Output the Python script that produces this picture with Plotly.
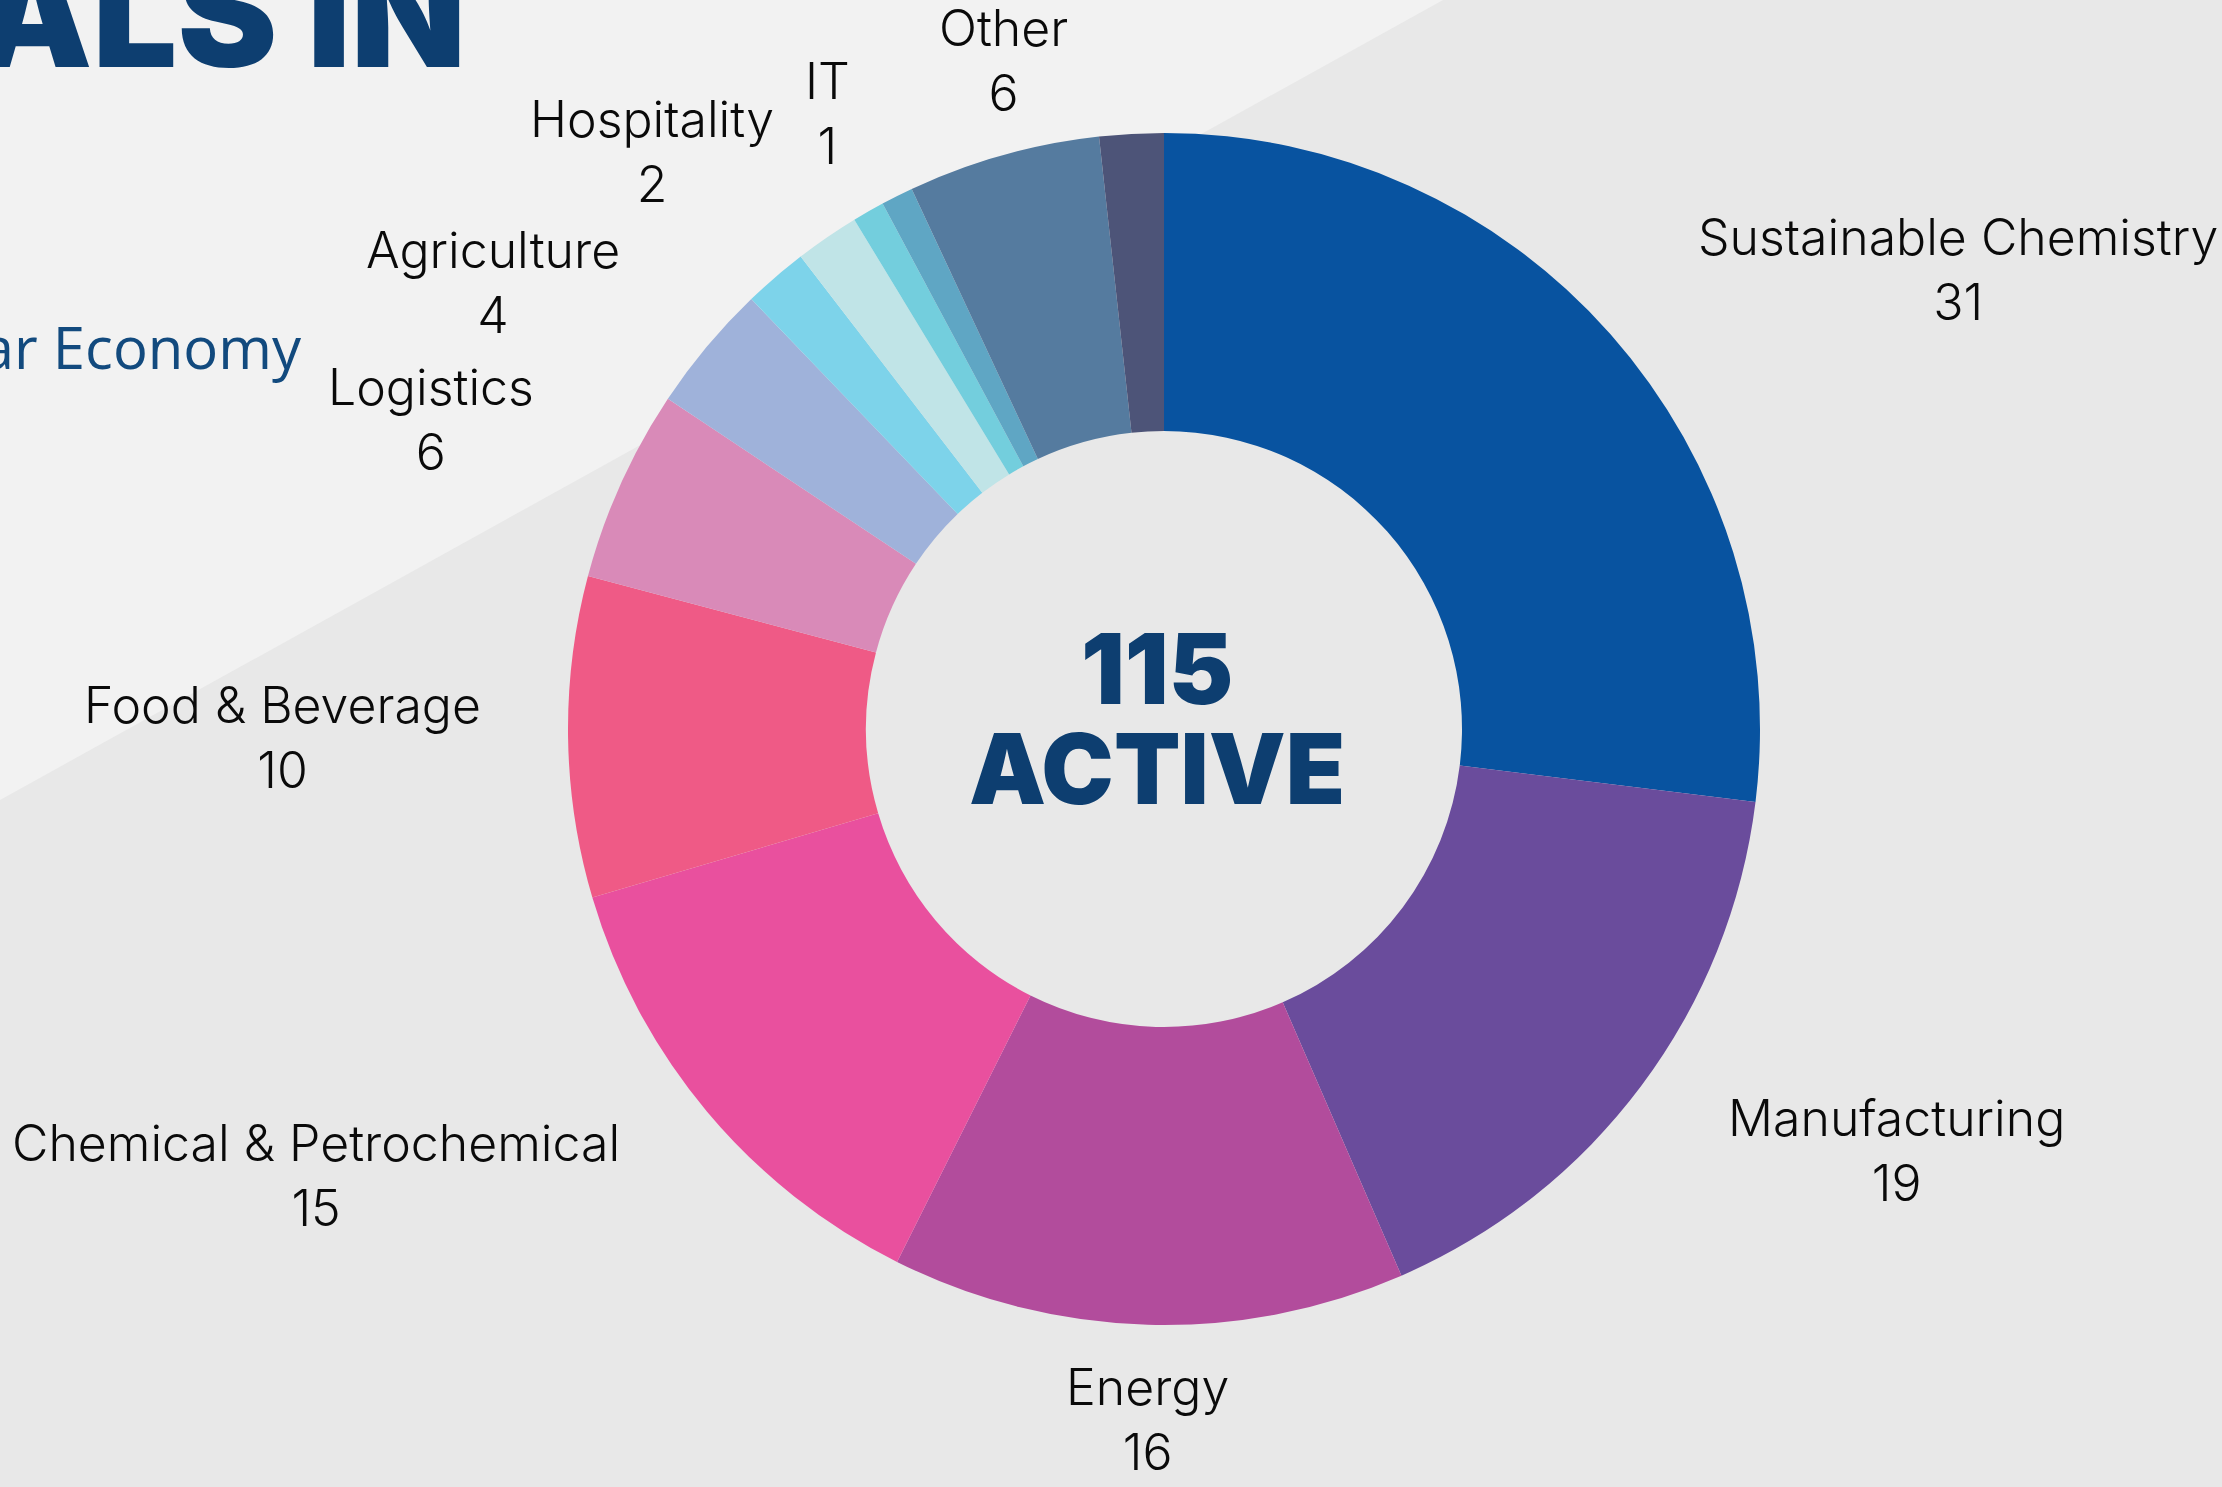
import math
import plotly.graph_objects as go

# ---------------- data ----------------
sectors = ["Sustainable Chemistry", "Manufacturing", "Energy", "Chemical & Petrochemical",
           "Food & Beverage", "Logistics", "Agriculture", "Hospitality",
           "Unlabelled A", "IT", "Unlabelled B", "Other", "Unlabelled C"]
counts = [31, 19, 16, 15, 10, 6, 4, 2, 2, 1, 1, 6, 2]
show_label = [True, True, True, True, True, True, True, True,
              False, True, False, True, False]
slice_colors = ["#0853A0", "#6A4C9C", "#B24C9C", "#E9509E", "#EF5A86", "#D98AB8",
                "#9FB2DA", "#7DD3EA", "#C0E4E7", "#73CEDD", "#5FA6C4", "#557B9F", "#4D5478"]
center_number = "115"
center_word = "ACTIVE"
heading_text = "PROPOSALS IN"
subheading_text = "Circular Economy"

# ---------------- layout constants (pixels) ----------------
W, H = 2222, 1487
CX, CY, R = 1164, 729, 596
FS = 50
LINE_H = 1.3 * FS
GAP_X, GAP_Y = 85, 30
PAD_X, PAD_Y = 30, 0
CHAR_W = 0.46 * FS
LABEL_FONT = "Inter"
NAVY = "#0D3E70"


def px_x(x):
    return x / W


def px_y(y):
    return 1 - y / H


fig = go.Figure(go.Pie(
    labels=sectors,
    values=counts,
    hole=0.5,
    sort=False,
    direction="clockwise",
    rotation=0,
    marker=dict(colors=slice_colors, line=dict(width=0)),
    textinfo="none",
    hovertemplate="%{label}: %{value}<extra></extra>",
    domain=dict(x=[px_x(CX - R), px_x(CX + R)], y=[px_y(CY + R), px_y(CY - R)]),
    showlegend=False,
))

# ---------- outside labels positioned from slice mid-angles ----------
total = sum(counts)
mids = []
acc = 0
for v in counts:
    mids.append((acc + v / 2) / total * 2 * math.pi)
    acc += v


def place(theta, w, h):
    s, c = math.sin(theta), math.cos(theta)
    px, py = CX + R * s, CY - R * c
    if abs(s) < 0.3:
        xa, x = "center", px
        if c > 0:
            ya, y = "bottom", py - GAP_Y
        else:
            ya, y = "top", py + GAP_Y
    else:
        xa, x = ("left", px + GAP_X) if s > 0 else ("right", px - GAP_X)
        if abs(c) < 0.2:
            ya, y = "middle", py
        elif c > 0:
            ya, y = "bottom", py
        else:
            ya, y = "top", py
    x0 = {"left": x, "right": x - w, "center": x - w / 2}[xa]
    y0 = {"top": y, "bottom": y - h, "middle": y - h / 2}[ya]
    return dict(x=x, y=y, xa=xa, ya=ya, box=(x0, y0, x0 + w, y0 + h))


def overlaps(b, others):
    for o in others:
        if (b[0] < o[2] + PAD_X and b[2] + PAD_X > o[0]
                and b[1] < o[3] + PAD_Y and b[3] + PAD_Y > o[1]):
            return True
    return False


idx = [i for i in range(len(counts)) if show_label[i]]
left = sorted([i for i in idx if mids[i] > math.pi], key=lambda i: mids[i])
right = sorted([i for i in idx if mids[i] <= math.pi], key=lambda i: -mids[i])
placed_boxes = []
positions = {}
for group, step in ((left, 0.004), (right, -0.004)):
    for i in group:
        w = max(len(sectors[i]), len(str(counts[i]))) * CHAR_W
        h = 2 * LINE_H
        theta = mids[i]
        p = place(theta, w, h)
        n = 0
        while overlaps(p["box"], placed_boxes) and n < 200:
            theta += step
            p = place(theta, w, h)
            n += 1
        placed_boxes.append(p["box"])
        positions[i] = p

annotations = []
for i, p in positions.items():
    annotations.append(dict(
        x=px_x(p["x"]), y=px_y(p["y"]), xref="paper", yref="paper",
        xanchor=p["xa"], yanchor=p["ya"], showarrow=False, align="center",
        text=f"{sectors[i]}<br>{counts[i]}",
        font=dict(family=LABEL_FONT, size=FS, color="#0A0A0A", weight=300),
    ))

# center text
annotations.append(dict(x=px_x(1157), y=px_y(668), xref="paper", yref="paper",
                        xanchor="center", yanchor="middle", showarrow=False,
                        text=center_number,
                        font=dict(family="Inter", size=97, color=NAVY, weight=900)))
annotations.append(dict(x=px_x(1157), y=px_y(768), xref="paper", yref="paper",
                        xanchor="center", yanchor="middle", showarrow=False,
                        text=center_word,
                        font=dict(family="Inter", size=97, color=NAVY, weight=900)))

# cropped page heading and subheading
annotations.append(dict(x=px_x(468), y=px_y(13), xref="paper", yref="paper",
                        xanchor="right", yanchor="middle", showarrow=False,
                        text=heading_text,
                        font=dict(family="Inter", size=150, color=NAVY, weight=900)))
annotations.append(dict(x=px_x(304), y=px_y(347), xref="paper", yref="paper",
                        xanchor="right", yanchor="middle", showarrow=False,
                        text=subheading_text,
                        font=dict(family="Open Sans", size=58, color="#124A7E", weight=400)))

shapes = [dict(type="path", xref="paper", yref="paper", layer="below",
               path=f"M 0 1 L {px_x(1443)} 1 L 0 {px_y(800)} Z",
               fillcolor="#F2F2F2", line=dict(width=0))]

fig.update_layout(
    width=W, height=H, autosize=False,
    margin=dict(l=0, r=0, t=0, b=0),
    paper_bgcolor="#E8E8E8", plot_bgcolor="#E8E8E8",
    annotations=annotations, shapes=shapes,
    showlegend=False,
)

fig.write_html("out.html",
               config={"displayModeBar": False},
               post_script="document.body.style.margin='0px';document.body.style.overflow='hidden';")
